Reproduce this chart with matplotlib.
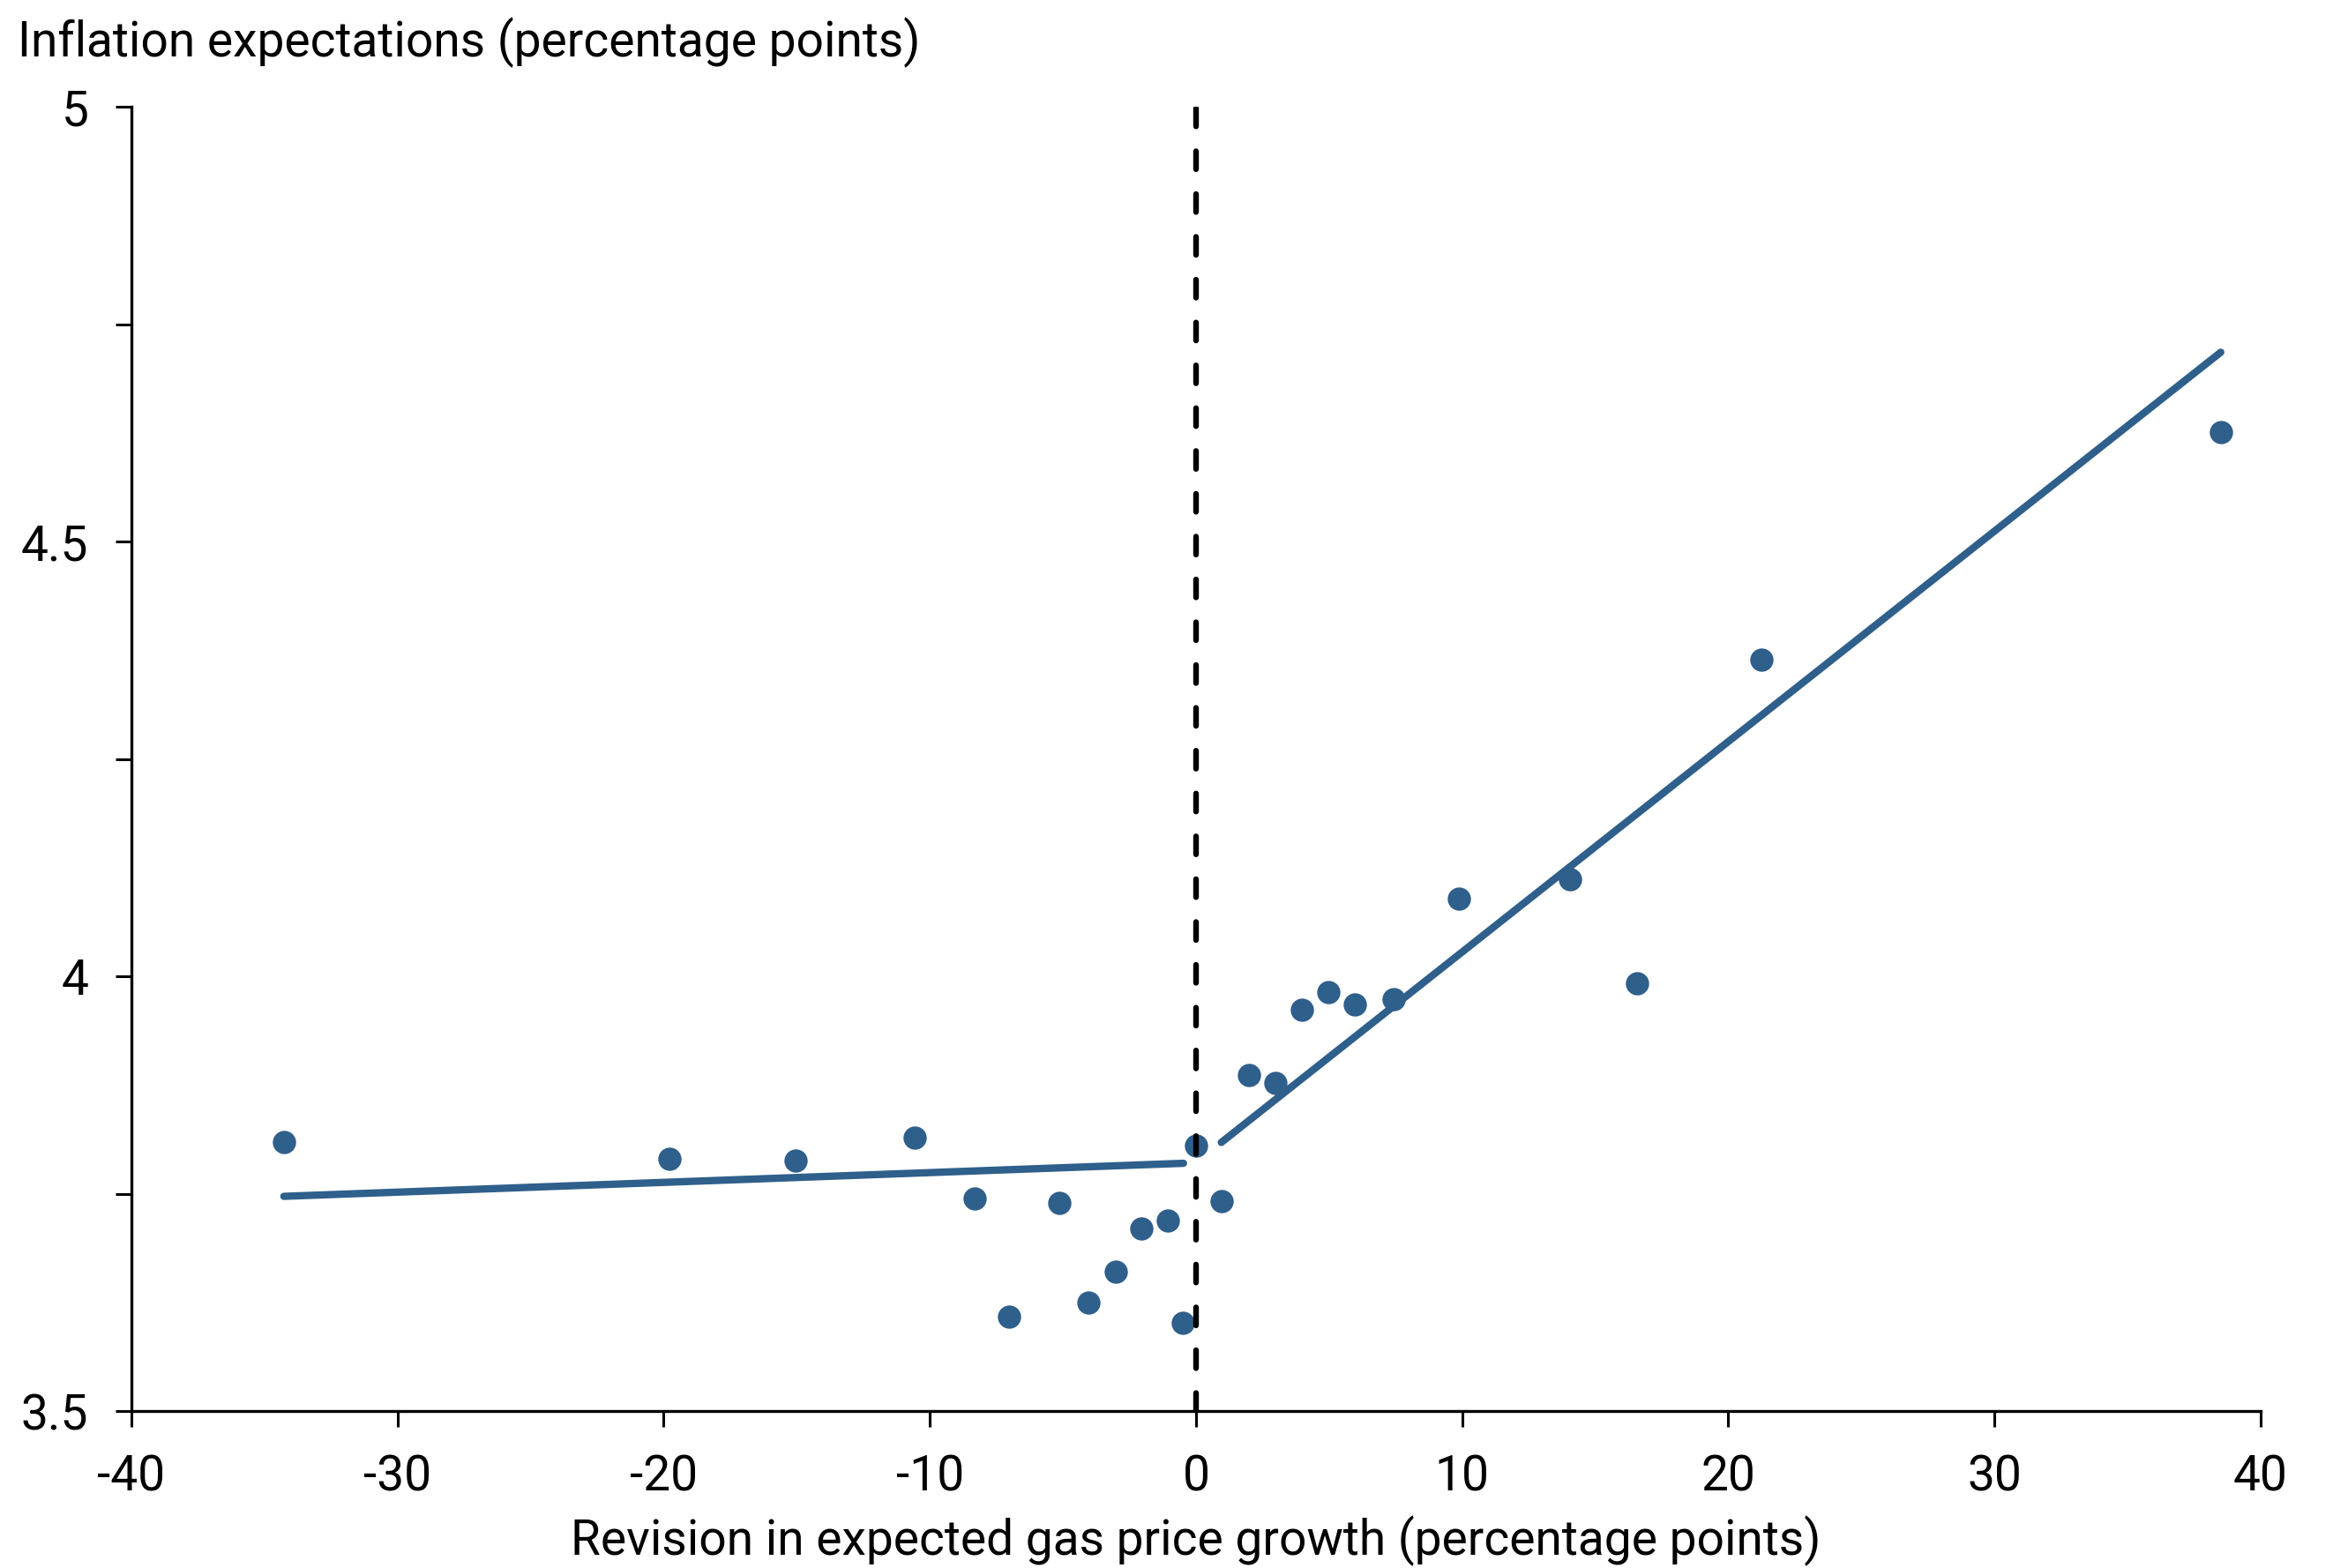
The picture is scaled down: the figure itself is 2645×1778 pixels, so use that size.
import matplotlib
matplotlib.use('Agg')
import matplotlib.pyplot as plt

plt.rcParams['font.family'] = ['Roboto', 'DejaVu Sans']

# binned scatter: revision in expected gas price growth vs inflation expectations
gas_rev = [-34.27, -19.78, -15.06, -10.58, -8.30, -7.03, -5.13, -4.04, -3.02, -2.04,
           -1.05, -0.50, 0.0, 0.95, 1.98, 2.97, 3.97, 4.98, 5.98, 7.44,
           9.87, 14.05, 16.57, 21.25, 38.5]
infl_exp = [3.809, 3.790, 3.788, 3.815, 3.745, 3.609, 3.739, 3.625, 3.660, 3.710,
            3.719, 3.601, 3.805, 3.741, 3.887, 3.877, 3.962, 3.982, 3.968, 3.974,
            4.089, 4.112, 3.992, 4.364, 4.626]

# fitted lines on each side of zero
fit_neg_x = [-34.27, -0.47]
fit_neg_y = [3.747, 3.785]
fit_pos_x = [0.95, 38.5]
fit_pos_y = [3.809, 4.718]

x_ticks = [-40, -30, -20, -10, 0, 10, 20, 30, 40]
x_labels = ['-40', '-30', '-20', '-10', '0', '10', '20', '30', '40']
y_ticks = [3.5, 3.75, 4.0, 4.25, 4.5, 4.75, 5.0]
y_labels = ['3.5', '', '4', '', '4.5', '', '5']

azul = '#2f5f8b'

fig = plt.figure(figsize=(26.45, 17.78), dpi=100)
ax = fig.add_axes([0.0563, 0.1001, 0.9127, 0.8316])

ax.plot(gas_rev, infl_exp, 'o', color=azul, markersize=19, markeredgewidth=0, zorder=3)
ax.plot(fit_neg_x, fit_neg_y, color=azul, lw=6, solid_capstyle='round', zorder=2)
ax.plot(fit_pos_x, fit_pos_y, color=azul, lw=6, solid_capstyle='round', zorder=2)

ax.axvline(0, ymin=0, ymax=1.0, color='black', lw=4.6, linestyle=(0, (3.2, 4.4)),
           dash_capstyle='round', zorder=4)

ax.set_xlim(-40, 40)
ax.set_ylim(3.5, 5)
ax.set_xticks(x_ticks)
ax.set_xticklabels(x_labels)
ax.set_yticks(y_ticks)
ax.set_yticklabels(y_labels)

for s in ['top', 'right']:
    ax.spines[s].set_visible(False)
for s in ['left', 'bottom']:
    ax.spines[s].set_linewidth(2.4)

ax.tick_params(axis='both', labelsize=39.7, length=13, width=2.2, pad=22, direction='out')

ax.set_xlabel('Revision in expected gas price growth (percentage points)', fontsize=39.7, labelpad=12)
fig.text(0.0075, 0.989, 'Inflation expectations (percentage points)', fontsize=39.7,
         ha='left', va='top')

fig.savefig('out.png', dpi=100)
